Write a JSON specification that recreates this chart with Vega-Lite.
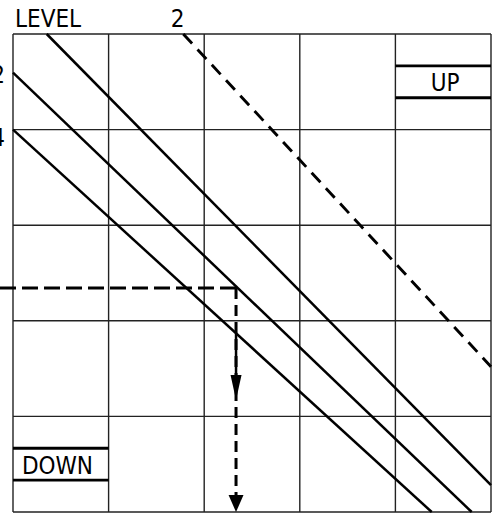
{
  "$schema": "https://vega.github.io/schema/vega-lite/v6.json",
  "width": 478,
  "height": 478,
  "autosize": {"type": "none"},
  "padding": {"left": 13, "top": 34, "right": 7, "bottom": 1},
  "config": {"view": {"stroke": null}},
  "datasets": {
    "grid": [
      {"x": 0, "y": 0, "x2": 0, "y2": 5},
      {"x": 1, "y": 0, "x2": 1, "y2": 5},
      {"x": 2, "y": 0, "x2": 2, "y2": 5},
      {"x": 3, "y": 0, "x2": 3, "y2": 5},
      {"x": 4, "y": 0, "x2": 4, "y2": 5},
      {"x": 5, "y": 0, "x2": 5, "y2": 5},
      {"x": 0, "y": 0, "x2": 5, "y2": 0},
      {"x": 0, "y": 1, "x2": 5, "y2": 1},
      {"x": 0, "y": 2, "x2": 5, "y2": 2},
      {"x": 0, "y": 3, "x2": 5, "y2": 3},
      {"x": 0, "y": 4, "x2": 5, "y2": 4},
      {"x": 0, "y": 5, "x2": 5, "y2": 5}
    ],
    "bands": [
      {"x": 4, "y": 0.3333, "x2": 5, "y2": 0.3333},
      {"x": 4, "y": 0.6667, "x2": 5, "y2": 0.6667},
      {"x": 0, "y": 4.3333, "x2": 1, "y2": 4.3333},
      {"x": 0, "y": 4.6667, "x2": 1, "y2": 4.6667}
    ],
    "solid": [
      {"x": 0.3525, "y": 0, "x2": 5, "y2": 4.72},
      {"x": 0, "y": 0.405, "x2": 4.798, "y2": 5},
      {"x": 0, "y": 1.0, "x2": 4.38, "y2": 5},
      {"x": 2.333, "y": 3.13, "x2": 2.333, "y2": 3.6}
    ],
    "dashedDiag": [
      {"x": 1.781, "y": 0, "x2": 5, "y2": 3.48}
    ],
    "dashedH": [
      {"x": -0.136, "y": 2.657, "x2": 2.333, "y2": 2.657}
    ],
    "dashedV": [
      {"x": 2.333, "y": 2.657, "x2": 2.333, "y2": 4.85}
    ],
    "arrowUpper": [{"x": 2.333, "y": 3.698}],
    "arrowLower": [{"x": 2.333, "y": 4.911}],
    "labels": [
      {"x": 0.021, "y": -0.073, "label": "LEVEL", "pos": "left"},
      {"x": 1.721, "y": -0.073, "label": "2", "pos": "center"},
      {"x": 4.52, "y": 0.593, "label": "UP", "pos": "center"},
      {"x": 0.465, "y": 4.598, "label": "DOWN", "pos": "center"}
    ],
    "edgeLabels": [
      {"x": -0.084, "y": 0.513, "label": "2"},
      {"x": -0.084, "y": 1.172, "label": "4"}
    ]
  },
  "layer": [
    {
      "data": {"name": "grid"},
      "mark": {"type": "rule", "color": "#222222", "strokeWidth": 1.4},
      "encoding": {
        "x": {"field": "x", "type": "quantitative", "scale": {"domain": [0, 5], "nice": false, "zero": false}, "axis": null},
        "y": {"field": "y", "type": "quantitative", "scale": {"domain": [0, 5], "nice": false, "zero": false, "reverse": true}, "axis": null},
        "x2": {"field": "x2"},
        "y2": {"field": "y2"}
      }
    },
    {
      "data": {"name": "bands"},
      "mark": {"type": "rule", "color": "#000000", "strokeWidth": 2.8},
      "encoding": {
        "x": {"field": "x", "type": "quantitative", "scale": {"domain": [0, 5], "nice": false, "zero": false}, "axis": null},
        "y": {"field": "y", "type": "quantitative", "scale": {"domain": [0, 5], "nice": false, "zero": false, "reverse": true}, "axis": null},
        "x2": {"field": "x2"},
        "y2": {"field": "y2"}
      }
    },
    {
      "data": {"name": "solid"},
      "mark": {"type": "rule", "color": "#000000", "strokeWidth": 2.5},
      "encoding": {
        "x": {"field": "x", "type": "quantitative", "scale": {"domain": [0, 5], "nice": false, "zero": false}, "axis": null},
        "y": {"field": "y", "type": "quantitative", "scale": {"domain": [0, 5], "nice": false, "zero": false, "reverse": true}, "axis": null},
        "x2": {"field": "x2"},
        "y2": {"field": "y2"}
      }
    },
    {
      "data": {"name": "dashedDiag"},
      "mark": {"type": "rule", "color": "#000000", "strokeWidth": 2.9, "strokeDash": [13, 8]},
      "encoding": {
        "x": {"field": "x", "type": "quantitative", "scale": {"domain": [0, 5], "nice": false, "zero": false}, "axis": null},
        "y": {"field": "y", "type": "quantitative", "scale": {"domain": [0, 5], "nice": false, "zero": false, "reverse": true}, "axis": null},
        "x2": {"field": "x2"},
        "y2": {"field": "y2"}
      }
    },
    {
      "data": {"name": "dashedH"},
      "mark": {"type": "rule", "color": "#000000", "strokeWidth": 3, "strokeDash": [16, 6]},
      "encoding": {
        "x": {"field": "x", "type": "quantitative", "scale": {"domain": [0, 5], "nice": false, "zero": false}, "axis": null},
        "y": {"field": "y", "type": "quantitative", "scale": {"domain": [0, 5], "nice": false, "zero": false, "reverse": true}, "axis": null},
        "x2": {"field": "x2"},
        "y2": {"field": "y2"}
      }
    },
    {
      "data": {"name": "dashedV"},
      "mark": {"type": "rule", "color": "#000000", "strokeWidth": 3, "strokeDash": [11, 6]},
      "encoding": {
        "x": {"field": "x", "type": "quantitative", "scale": {"domain": [0, 5], "nice": false, "zero": false}, "axis": null},
        "y": {"field": "y", "type": "quantitative", "scale": {"domain": [0, 5], "nice": false, "zero": false, "reverse": true}, "axis": null},
        "x2": {"field": "x2"},
        "y2": {"field": "y2"}
      }
    },
    {
      "data": {"name": "arrowUpper"},
      "mark": {"type": "point", "filled": true, "color": "#000000", "opacity": 1, "size": 625, "shape": "M-0.44,-1L0.44,-1L0,1Z"},
      "encoding": {
        "x": {"field": "x", "type": "quantitative", "scale": {"domain": [0, 5], "nice": false, "zero": false}, "axis": null},
        "y": {"field": "y", "type": "quantitative", "scale": {"domain": [0, 5], "nice": false, "zero": false, "reverse": true}, "axis": null}
      }
    },
    {
      "data": {"name": "arrowLower"},
      "mark": {"type": "point", "filled": true, "color": "#000000", "opacity": 1, "size": 289, "shape": "M-0.88,-1L0.88,-1L0,1Z"},
      "encoding": {
        "x": {"field": "x", "type": "quantitative", "scale": {"domain": [0, 5], "nice": false, "zero": false}, "axis": null},
        "y": {"field": "y", "type": "quantitative", "scale": {"domain": [0, 5], "nice": false, "zero": false, "reverse": true}, "axis": null}
      }
    },
    {
      "data": {"name": "labels"},
      "transform": [{"filter": "datum.pos === 'left'"}],
      "mark": {"type": "text", "font": "DejaVu Sans Condensed, DejaVu Sans", "fontSize": 24, "align": "left", "baseline": "alphabetic", "color": "#000000"},
      "encoding": {
        "x": {"field": "x", "type": "quantitative", "scale": {"domain": [0, 5], "nice": false, "zero": false}, "axis": null},
        "y": {"field": "y", "type": "quantitative", "scale": {"domain": [0, 5], "nice": false, "zero": false, "reverse": true}, "axis": null},
        "text": {"field": "label"}
      }
    },
    {
      "data": {"name": "labels"},
      "transform": [{"filter": "datum.pos === 'center'"}],
      "mark": {"type": "text", "font": "DejaVu Sans Condensed, DejaVu Sans", "fontSize": 24, "align": "center", "baseline": "alphabetic", "color": "#000000"},
      "encoding": {
        "x": {"field": "x", "type": "quantitative", "scale": {"domain": [0, 5], "nice": false, "zero": false}, "axis": null},
        "y": {"field": "y", "type": "quantitative", "scale": {"domain": [0, 5], "nice": false, "zero": false, "reverse": true}, "axis": null},
        "text": {"field": "label"}
      }
    },
    {
      "data": {"name": "edgeLabels"},
      "mark": {"type": "text", "font": "DejaVu Sans Condensed, DejaVu Sans", "fontSize": 24, "align": "right", "baseline": "alphabetic", "color": "#000000"},
      "encoding": {
        "x": {"field": "x", "type": "quantitative", "scale": {"domain": [0, 5], "nice": false, "zero": false}, "axis": null},
        "y": {"field": "y", "type": "quantitative", "scale": {"domain": [0, 5], "nice": false, "zero": false, "reverse": true}, "axis": null},
        "text": {"field": "label"}
      }
    }
  ]
}
